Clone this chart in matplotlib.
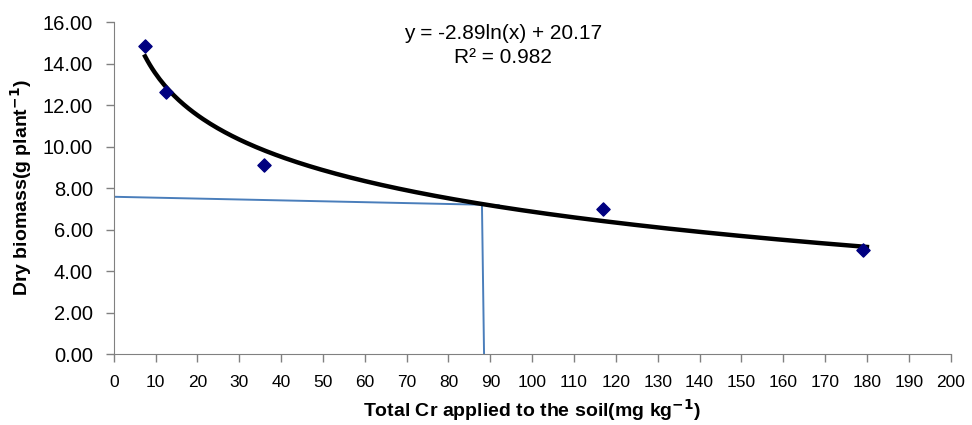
import numpy as np
import matplotlib
matplotlib.use('Agg')
from matplotlib import pyplot as plt

# measured points
cr_applied = [7.5, 12.5, 36, 117, 179]
dry_biomass = [14.85, 12.65, 9.1, 7.0, 5.0]

# log fit from the chart
fit_a = -2.89
fit_b = 20.17

# blue read-off lines
hline_x = [0, 92]
hline_y = [7.58, 7.18]
vline_x = [88, 88.5]
vline_y = [7.2, 0]

x_ticks = list(range(0, 201, 10))
y_ticks = list(range(0, 17, 2))

plt.rcParams['font.family'] = ['Liberation Sans', 'DejaVu Sans']

fig = plt.figure(figsize=(9.72, 4.25), dpi=100)
ax = fig.add_axes([0.117, 0.167, 0.861, 0.781])

xs = np.linspace(min(cr_applied), 180, 300)
ax.plot(xs, fit_a * np.log(xs) + fit_b, color='black', lw=3.2, zorder=3)
ax.plot(hline_x, hline_y, color='#4a7ebb', lw=1.4, zorder=2)
ax.plot(vline_x, vline_y, color='#4a7ebb', lw=1.4, zorder=2)
ax.scatter(cr_applied, dry_biomass, marker='D', s=45, color='#000080', zorder=4)

ax.text(93, 15.47, 'y = -2.89ln(x) + 20.17', ha='center', va='center', fontsize=15)
ax.text(93, 14.31, 'R² = 0.982', ha='center', va='center', fontsize=15)

ax.set_xlim(0, 200)
ax.set_ylim(0, 16)
ax.set_xticks(x_ticks)
ax.set_yticks(y_ticks)
ax.set_yticklabels(['%.2f' % v for v in y_ticks], fontsize=14.5)
ax.set_xticklabels([str(v) for v in x_ticks], fontsize=12.5)
ax.tick_params(direction='out', length=6, color='#808080', width=1)
ax.tick_params(axis='y', pad=9)
ax.tick_params(axis='x', pad=9)

for s in ['top', 'right']:
    ax.spines[s].set_visible(False)
for s in ['left', 'bottom']:
    ax.spines[s].set_color('#808080')

ax.set_ylabel('Dry biomass(g plant$^{\\mathbf{-1}}$)', fontsize=14, fontweight='bold', labelpad=6)
ax.set_xlabel('Total Cr applied to the soil(mg kg$^{\\mathbf{-1}}$)', fontsize=14, fontweight='bold',
              labelpad=5)

fig.savefig('out.png', dpi=100)
